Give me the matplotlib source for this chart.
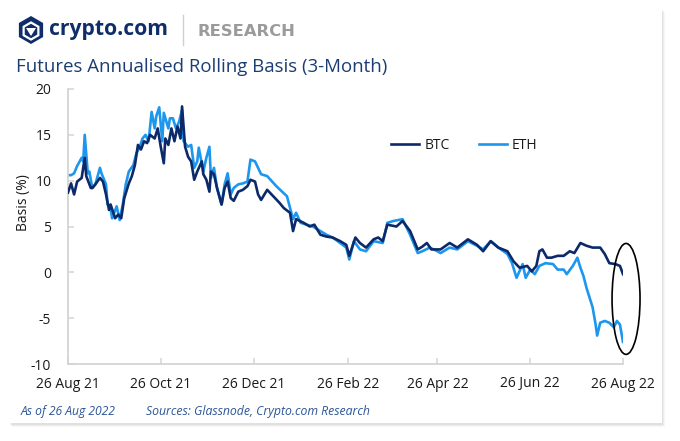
import numpy as np
import pandas as pd
import matplotlib
matplotlib.use("Agg")
import matplotlib.pyplot as plt
import matplotlib.dates as mdates
from matplotlib.patches import Ellipse, Polygon, Rectangle
from matplotlib.lines import Line2D

# ---------------- data (days since 26 Aug 2021, basis %) ----------------
start_date = "2021-08-26"
end_date = "2022-08-26"

btc_day = [0, 2, 4, 6, 9, 11, 12, 15, 16, 18, 21, 23, 25, 27, 28, 31, 33, 35, 37, 40,
           42, 44, 46, 48, 50, 52, 54, 57, 59, 61, 63, 64, 66, 68, 70, 72, 74, 75, 77, 79,
           81, 83, 85, 88, 89, 91, 93, 94, 96, 98, 101, 103, 105, 107, 109, 112, 115, 118, 120, 123,
           125, 127, 131, 139, 142, 146, 148, 150, 155, 159, 162, 166, 170, 174, 179, 183, 185, 189, 192, 196,
           201, 204, 207, 210, 216, 220, 225, 230, 233, 236, 239, 245, 251, 256, 263, 269, 273, 278, 283, 289,
           293, 297, 302, 305, 308, 310, 312, 315, 318, 322, 326, 330, 333, 337, 341, 345, 350, 353, 356, 360,
           363, 365]
btc_basis = [8.7, 9.7, 8.5, 9.9, 10.3, 12.5, 10.5, 9.2, 9.2, 9.6, 10.3, 9.9, 8.5, 6.8, 7.4, 5.9, 6.3, 5.9, 8.1, 9.7,
             10.5, 11.7, 13.9, 13.4, 14.3, 14.1, 15.0, 14.6, 15.7, 13.7, 11.9, 14.6, 13.9, 15.7, 14.3, 15.9, 14.6, 18.1, 13.7, 12.6,
             12.1, 10.1, 11.0, 12.1, 10.7, 10.1, 8.8, 11.0, 10.7, 9.2, 7.4, 9.2, 9.9, 8.1, 7.8, 8.8, 9.0, 9.4, 10.1, 9.9,
             8.5, 7.9, 9.0, 7.6, 7.0, 6.5, 4.5, 5.8, 5.4, 5.0, 5.2, 4.1, 3.9, 3.8, 3.4, 3.0, 1.8, 3.8, 3.2, 2.7,
             3.6, 3.8, 3.4, 5.2, 5.0, 5.6, 4.5, 2.5, 2.8, 3.2, 2.5, 2.5, 3.2, 2.7, 3.6, 3.0, 2.3, 3.4, 2.7, 2.3,
             1.2, 0.5, 0.7, 0.1, 0.7, 2.3, 2.5, 1.6, 1.6, 1.8, 1.8, 2.3, 2.1, 3.2, 2.9, 2.7, 2.7, 2.0, 1.0, 0.9,
             0.7, -0.2]

eth_day = [0, 2, 4, 6, 9, 10, 11, 13, 14, 16, 18, 21, 22, 25, 26, 28, 29, 32, 34, 36,
           38, 40, 43, 45, 47, 49, 51, 53, 55, 57, 58, 60, 62, 63, 66, 67, 69, 71, 73, 75,
           76, 79, 81, 83, 85, 86, 89, 91, 93, 94, 96, 98, 101, 103, 105, 107, 109, 112, 115, 118,
           120, 123, 125, 127, 131, 137, 144, 148, 150, 153, 157, 161, 166, 170, 174, 179, 183, 185, 188, 192,
           196, 201, 207, 210, 214, 220, 225, 230, 233, 238, 243, 245, 251, 256, 263, 269, 273, 278, 283, 289,
           292, 295, 299, 301, 304, 307, 310, 314, 319, 322, 326, 328, 332, 335, 337, 339, 341, 345, 347, 348,
           350, 353, 356, 359, 361, 363, 365]
eth_basis = [10.6, 10.6, 10.8, 11.6, 12.5, 12.1, 15.0, 10.8, 11.0, 9.2, 9.6, 11.4, 10.8, 9.6, 7.4, 7.0, 5.9, 7.2, 5.7, 7.4,
             9.6, 11.0, 11.7, 13.0, 13.6, 14.6, 15.0, 14.3, 17.5, 15.7, 17.0, 18.0, 14.3, 17.4, 15.7, 16.8, 16.8, 15.7, 16.4, 17.7,
             14.3, 13.7, 13.9, 11.4, 12.1, 13.6, 11.0, 12.5, 13.7, 10.3, 11.4, 9.2, 7.4, 9.6, 10.8, 8.5, 9.2, 9.6, 9.7, 9.9,
             12.3, 12.1, 11.4, 10.7, 10.5, 9.4, 8.3, 5.8, 6.5, 5.4, 5.2, 5.0, 4.5, 4.1, 3.8, 3.2, 2.7, 1.4, 3.4, 2.5,
             2.3, 3.4, 3.2, 5.4, 5.6, 5.8, 4.1, 2.1, 2.3, 2.7, 2.3, 2.1, 2.7, 2.5, 3.4, 2.9, 2.5, 3.4, 2.7, 2.0,
             1.0, -0.6, 0.9, -0.6, 0.3, -0.2, 0.7, 1.0, 0.9, 0.3, 0.3, -0.2, 0.7, 1.6, 0.5, -0.4, -1.7, -3.8, -5.7, -6.9,
             -5.5, -5.3, -5.5, -6.0, -5.3, -5.7, -7.6]

tick_labels = ["26 Aug 21", "26 Oct 21", "26 Dec 21", "26 Feb 22", "26 Apr 22", "26 Jun 22", "26 Aug 22"]
tick_dates = ["2021-08-26", "2021-10-26", "2021-12-26", "2022-02-26", "2022-04-26", "2022-06-26", "2022-08-26"]
y_ticks = [-10, -5, 0, 5, 10, 15, 20]

# ---------------- figure ----------------
W, H = 680, 441
fig = plt.figure(figsize=(W / 100, H / 100), dpi=100)
fig.patch.set_facecolor("white")
FONT = "Open Sans"

def fx(px):
    return px / W

def fy(py):
    return 1 - py / H

# card with subtle shadow
for i, a in enumerate([0.05, 0.04, 0.03]):
    fig.patches.append(Rectangle((fx(10 + i), fy(425 + i)), fx(653), 1 - fy(415), transform=fig.transFigure,
                                 facecolor="#000000", alpha=a, edgecolor="none", zorder=0))
fig.patches.append(Rectangle((fx(9), fy(423)), fx(653), 1 - fy(415), transform=fig.transFigure,
                             facecolor="white", edgecolor="none", zorder=1))

ax = fig.add_axes([fx(68), fy(364), fx(623 - 68), (364 - 89) / H])
ax.set_facecolor("none")
ax.set_zorder(3)

t0 = pd.Timestamp(start_date)
btc_x = [t0 + pd.Timedelta(days=d) for d in btc_day]
eth_x = [t0 + pd.Timedelta(days=d) for d in eth_day]

BTC_C = "#0c2a6a"
ETH_C = "#1d97ee"
ax.plot(btc_x, btc_basis, color=BTC_C, lw=1.9, label="BTC", zorder=3)
ax.plot(eth_x, eth_basis, color=ETH_C, lw=1.9, label="ETH", zorder=2)

ax.set_xlim(pd.Timestamp(start_date), pd.Timestamp(end_date))
ax.set_ylim(-10, 20)
ax.set_yticks(y_ticks)
ax.set_yticklabels([str(v) for v in y_ticks])
ax.set_xticks([pd.Timestamp(d) for d in tick_dates])
ax.set_xticklabels(tick_labels)

for s in ["top", "right"]:
    ax.spines[s].set_visible(False)
for s in ["left", "bottom"]:
    ax.spines[s].set_color("#d4d4d4")
    ax.spines[s].set_linewidth(1.3)
ax.tick_params(axis="both", direction="in", length=4, color="#d4d4d4", width=1.1,
               labelsize=10, labelcolor="#1a1a1a")
ax.tick_params(axis="y", pad=12)
ax.tick_params(axis="x", pad=9)
for lab in ax.get_xticklabels() + ax.get_yticklabels():
    lab.set_fontfamily(FONT)

fig.text(fx(23), fy(203), "Basis (%)", rotation=90, ha="center", va="center",
         fontsize=10, family=FONT, color="#1a1a1a")

# legend
leg = ax.legend(loc="center left", bbox_to_anchor=(fx(391), fy(145)), bbox_transform=fig.transFigure,
                ncol=2, frameon=False, handlelength=2.0, handletextpad=0.4, columnspacing=2.1,
                prop={"family": FONT, "size": 10}, borderaxespad=0, borderpad=0)
for t in leg.get_texts():
    t.set_color("#1a1a1a")

# ellipse highlight
cx = mdates.date2num(t0 + pd.Timedelta(days=367))
ax.add_patch(Ellipse((cx, -2.9), width=18.4, height=12.1, fill=False, edgecolor="black",
                     lw=1.2, clip_on=False, zorder=5))

# title
fig.text(fx(16), fy(67), "Futures Annualised Rolling Basis (3-Month)", ha="left", va="center",
         fontsize=13.4, family=FONT, color="#1b3d73")

# header logo
hx, hy, r = 31, 30, 14
ang = np.deg2rad(np.arange(6) * 60 + 90)
hexpts = [(fx(hx + r * np.cos(a)), fy(hy - r * np.sin(a))) for a in ang]
fig.patches.append(Polygon(hexpts, closed=True, transform=fig.transFigure, facecolor="#0f2d68",
                           edgecolor="none", zorder=4))
r2 = 8.5
inner = [(fx(hx + r2 * np.cos(a)), fy(hy + 1 - r2 * np.sin(a))) for a in ang]
fig.patches.append(Polygon(inner, closed=True, transform=fig.transFigure, facecolor="none",
                           edgecolor="white", lw=1.6, zorder=5))
fig.patches.append(Polygon([(fx(hx - 5), fy(hy - 2)), (fx(hx + 5), fy(hy - 2)), (fx(hx), fy(hy + 6))],
                           closed=True, transform=fig.transFigure, facecolor="white",
                           edgecolor="none", zorder=5))
fig.text(fx(49), fy(30), "crypto.com", ha="left", va="center", fontsize=15.2, fontweight="bold",
         family=FONT, color="#0f2d68", zorder=5)
fig.lines.append(Line2D([fx(183), fx(183)], [fy(15), fy(45)], transform=fig.transFigure,
                        color="#d0d0d0", lw=1.0, zorder=5))
fig.text(fx(197), fy(31), "RESEARCH", ha="left", va="center", fontsize=11.8, fontweight="bold",
         family="DejaVu Sans", color="#9b9b9b", zorder=5)

# footer
fig.text(fx(21), fy(411), "As of 26 Aug 2022", ha="left", va="center", fontsize=8.7, style="italic",
         family=FONT, color="#2c5596", zorder=5)
fig.text(fx(146), fy(411), "Sources: Glassnode, Crypto.com Research", ha="left", va="center",
         fontsize=8.8, style="italic", family=FONT, color="#2c5596", zorder=5)

fig.savefig("out.png", dpi=100, facecolor="white")
